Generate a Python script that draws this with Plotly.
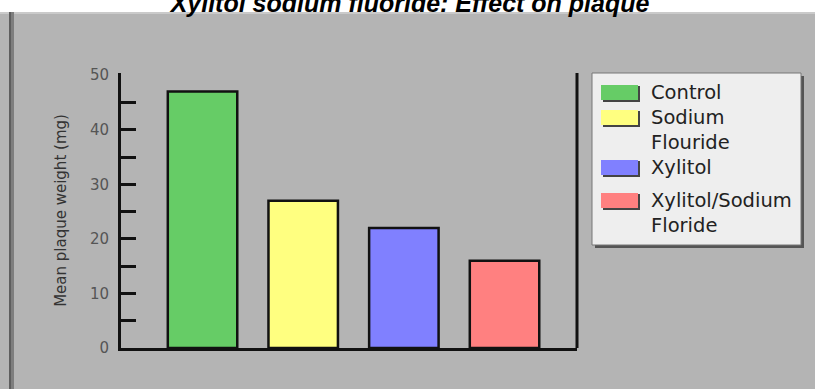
import plotly.graph_objects as go

# ---- data ----
categories = ["Control", "Sodium Flouride", "Xylitol", "Xylitol/Sodium Floride"]
legend_labels = ["Control", "Sodium<br>Flouride", "Xylitol", "Xylitol/Sodium<br>Floride"]
values = [47, 27, 22, 16]
colors = ["#66cc66", "#ffff80", "#8080ff", "#ff8080"]
y_tick_values = [0, 10, 20, 30, 40, 50]
y_tick_labels = ["0", "10", "20", "30", "40", "50"]
minor_tick_values = [5, 10, 15, 20, 25, 30, 35, 40, 45]
title_text = "Xylitol sodium fluoride: Effect on plaque"
y_title = "Mean plaque weight (mg)"

# ---- layout geometry (pixels) ----
W, H = 815, 389
L, R, T, B = 121, 238, 73, 41
PW, PH = W - L - R, H - T - B


def px_x(px):
    return (px - L) / PW


def px_y(py):
    return (H - B - py) / PH


fig = go.Figure()
fig.add_trace(go.Bar(
    x=categories, y=values,
    marker=dict(color=colors, line=dict(color="#111111", width=2.5)),
    width=0.69, showlegend=False, hoverinfo="x+y",
))

shapes = []
# gray panel background
shapes.append(dict(type="rect", xref="paper", yref="paper",
                   x0=px_x(0), x1=px_x(W), y0=px_y(H), y1=px_y(12),
                   fillcolor="#b4b4b4", line=dict(width=0), layer="below"))
shapes.append(dict(type="rect", xref="paper", yref="paper",
                   x0=px_x(0), x1=px_x(W), y0=px_y(14), y1=px_y(12),
                   fillcolor="#cacaca", line=dict(width=0), layer="below"))
# left dark strip
shapes.append(dict(type="rect", xref="paper", yref="paper",
                   x0=px_x(9), x1=px_x(11), y0=px_y(H), y1=px_y(12),
                   fillcolor="#5e5e5e", line=dict(width=0), layer="below"))
shapes.append(dict(type="rect", xref="paper", yref="paper",
                   x0=px_x(11), x1=px_x(14), y0=px_y(H), y1=px_y(12),
                   fillcolor="#7e7e7e", line=dict(width=0), layer="below"))
# right border of plot area
shapes.append(dict(type="line", xref="paper", yref="paper",
                   x0=1, x1=1, y0=0, y1=1,
                   line=dict(color="#111111", width=3)))

# legend box
LX0, LX1, LY0, LY1 = 592, 801, 73, 245
shapes.append(dict(type="rect", xref="paper", yref="paper",
                   x0=px_x(LX0 + 3), x1=px_x(LX1 + 3), y0=px_y(LY1 + 3), y1=px_y(LY0 + 3),
                   fillcolor="#555555", line=dict(width=0)))
shapes.append(dict(type="rect", xref="paper", yref="paper",
                   x0=px_x(LX0), x1=px_x(LX1), y0=px_y(LY1), y1=px_y(LY0),
                   fillcolor="#eeeeee", line=dict(color="#777777", width=1)))

row_tops = [85, 110, 160, 193]
annotations = []
for lab, col, top in zip(legend_labels, colors, row_tops):
    shapes.append(dict(type="rect", xref="paper", yref="paper",
                       x0=px_x(603), x1=px_x(640), y0=px_y(top + 17), y1=px_y(top + 1),
                       fillcolor="#444444", line=dict(width=0)))
    shapes.append(dict(type="rect", xref="paper", yref="paper",
                       x0=px_x(601), x1=px_x(638), y0=px_y(top + 15), y1=px_y(top),
                       fillcolor=col, line=dict(width=0)))
    annotations.append(dict(xref="paper", yref="paper", x=px_x(649), y=px_y(top - 6),
                            xanchor="left", yanchor="top", align="left",
                            text=lab, showarrow=False,
                            font=dict(family="DejaVu Sans", size=19.5, color="#222222")))

fig.update_layout(
    width=W, height=H,
    margin=dict(l=L, r=R, t=T, b=B, pad=0),
    paper_bgcolor="white",
    plot_bgcolor="#ededed",
    title=dict(text="<b><i>" + title_text + "</i></b>", x=410 / W, xanchor="center",
               xref="container", yref="container", y=1 - 12 / H, yanchor="bottom",
               font=dict(family="Arial", size=25, color="black")),
    shapes=shapes,
    annotations=annotations,
    bargap=0.3,
    showlegend=False,
    xaxis=dict(type="category", range=[-0.81, 3.72], showticklabels=False,
               showgrid=False, zeroline=False, showline=True, linecolor="#111111",
               linewidth=3, ticks=""),
    yaxis=dict(range=[0, 50.4], tickvals=y_tick_values, ticktext=y_tick_labels,
               ticks="", showgrid=False, zeroline=False,
               showline=True, linecolor="#111111", linewidth=3,
               ticklabelstandoff=6,
               tickfont=dict(family="DejaVu Sans", size=15, color="#555555"),
               minor=dict(tickvals=minor_tick_values, ticks="inside", ticklen=15,
                          tickwidth=3, tickcolor="#111111", showgrid=False),
               title=dict(text=y_title, standoff=20,
                          font=dict(family="DejaVu Sans", size=15, color="#333333"))),
)

fig.write_html("out.html")
